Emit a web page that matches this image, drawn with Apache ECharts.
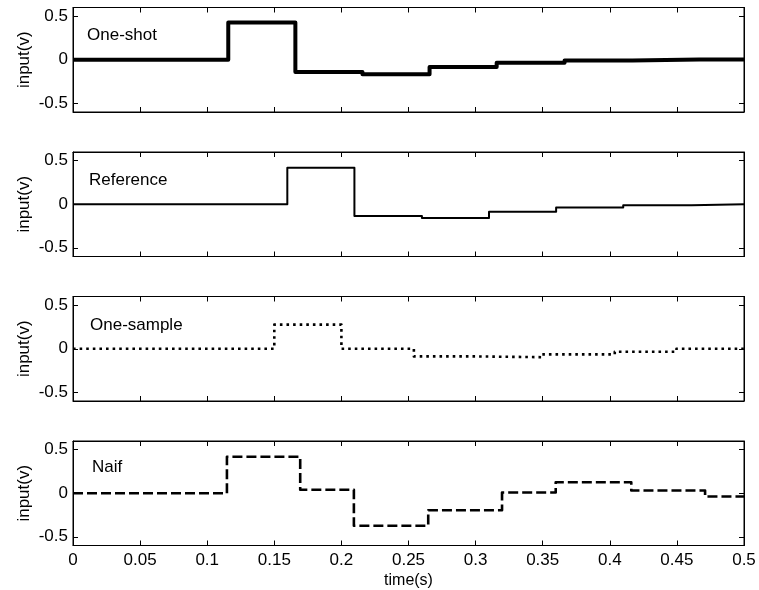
<!DOCTYPE html>
<html>
<head>
<meta charset="utf-8">
<script src="https://cdn.jsdelivr.net/npm/echarts@6/dist/echarts.min.js"></script>
<style>
html,body{margin:0;padding:0;background:#fff;}
#main{width:759px;height:590px;}
</style>
</head>
<body>
<div id="main"></div>
<script>
// ---- Data ----
const panelNames = ['One-shot', 'Reference', 'One-sample', 'Naif'];
const xTickValues = [0, 0.05, 0.1, 0.15, 0.2, 0.25, 0.3, 0.35, 0.4, 0.45, 0.5];
const yTickValues = [-0.5, 0, 0.5];
const tEnd = 0.5;

const oneShotBreaks = [0, 0.1157, 0.1657, 0.2157, 0.2657, 0.3157, 0.3663, 0.4167, 0.4667];
const oneShotLevels = [0, 0.428, -0.141, -0.167, -0.084, -0.034, -0.008, 0.004, 0.003];

const referenceBreaks = [0, 0.1597, 0.2097, 0.26, 0.31, 0.36, 0.41, 0.461];
const referenceLevels = [0, 0.42, -0.135, -0.158, -0.085, -0.038, -0.012, 0.0];

const oneSampleBreaks = [0, 0.15, 0.2, 0.254, 0.30, 0.3497, 0.4037, 0.4497];
const oneSampleLevels = [0, 0.277, 0, -0.088, -0.097, -0.065, -0.035, 0];

const naifBreaks = [0, 0.1147, 0.1693, 0.2093, 0.2647, 0.3197, 0.3597, 0.416, 0.471];
const naifLevels = [0, 0.42, 0.04, -0.373, -0.196, 0.008, 0.127, 0.031, -0.038];

// ---- Build step series (zero-order hold) ----
function stepData(breaks, levels) {
  const d = [[breaks[0], levels[0]]];
  for (let i = 1; i < breaks.length; i++) {
    d.push([breaks[i], levels[i - 1]]);
    d.push([breaks[i], levels[i]]);
  }
  d.push([tEnd, levels[levels.length - 1]]);
  return d;
}
const seriesData = [
  stepData(oneShotBreaks, oneShotLevels),
  stepData(referenceBreaks, referenceLevels),
  stepData(oneSampleBreaks, oneSampleLevels),
  stepData(naifBreaks, naifLevels)
];
const lineStyles = [
  {width: 4, type: 'solid'},
  {width: 2, type: 'solid'},
  {width: 2.6, type: [2.6, 4]},
  {width: 2.6, type: [10, 4]}
];

const FONT = "'Liberation Sans', Arial, Helvetica, sans-serif";
const gridTops = [7.5, 152, 296.5, 441];
const gridH = 104.5;
const titlePos = [[87, 35], [89, 180], [90, 325], [92, 467]];

const grids = [], xAxes = [], yAxes = [], series = [], graphics = [];
const fmtX = v => String(parseFloat(v.toFixed(2)));
const fmtY = v => (Math.abs(v) < 1e-9 ? '0' : String(parseFloat(v.toFixed(2))));

gridTops.forEach((top, i) => {
  grids.push({left: 73, right: 15, top: top, height: gridH, show: true,
    borderColor: '#000', borderWidth: 1, backgroundColor: '#fff', containLabel: false});
  const isLast = i === gridTops.length - 1;
  const baseX = {
    type: 'value', gridIndex: i, min: 0, max: tEnd, interval: 0.05,
    axisLine: {show: true, onZero: false, lineStyle: {color: '#000', width: 1}},
    axisTick: {show: true, inside: true, length: 5, lineStyle: {color: '#000', width: 1}},
    splitLine: {show: false}
  };
  xAxes.push(Object.assign({}, baseX, {
    position: 'bottom',
    axisLabel: {show: isLast, formatter: fmtX, color: '#000', fontSize: 17, fontFamily: FONT, margin: 6},
    name: isLast ? 'time(s)' : '', nameLocation: 'middle', nameGap: 27, nameMoveOverlap: false,
    nameTextStyle: {color: '#000', fontSize: 16, fontFamily: FONT}
  }));
  xAxes.push(Object.assign({}, baseX, {position: 'top', axisLabel: {show: false}}));
  const baseY = {
    type: 'value', gridIndex: i, min: -0.6, max: 0.6,
    axisLine: {show: true, onZero: false, lineStyle: {color: '#000', width: 1}},
    axisTick: {show: true, inside: true, length: 5, customValues: yTickValues, lineStyle: {color: '#000', width: 1}},
    splitLine: {show: false}
  };
  yAxes.push(Object.assign({}, baseY, {
    position: 'left',
    axisLabel: {show: true, customValues: yTickValues, formatter: fmtY, color: '#000', fontSize: 17, fontFamily: FONT, margin: 5},
    name: 'input(v)', nameLocation: 'middle', nameGap: 40, nameMoveOverlap: false,
    nameTextStyle: {color: '#000', fontSize: 17, fontFamily: FONT}
  }));
  yAxes.push(Object.assign({}, baseY, {position: 'right', axisLabel: {show: false}}));
  series.push({
    type: 'line', xAxisIndex: 2 * i, yAxisIndex: 2 * i,
    data: seriesData[i], showSymbol: false, symbol: 'none',
    lineStyle: Object.assign({color: '#000', cap: 'butt', join: 'round'}, lineStyles[i]),
    animation: false, silent: true
  });
  graphics.push({
    type: 'text', x: titlePos[i][0], y: titlePos[i][1],
    style: {text: panelNames[i], fill: '#000', font: '17px ' + FONT, verticalAlign: 'middle', align: 'left'}
  });
});

const chart = echarts.init(document.getElementById('main'), null, {renderer: 'canvas'});
chart.setOption({
  backgroundColor: '#fff',
  animation: false,
  grid: grids,
  xAxis: xAxes,
  yAxis: yAxes,
  series: series,
  graphic: graphics
});
</script>
</body>
</html>
